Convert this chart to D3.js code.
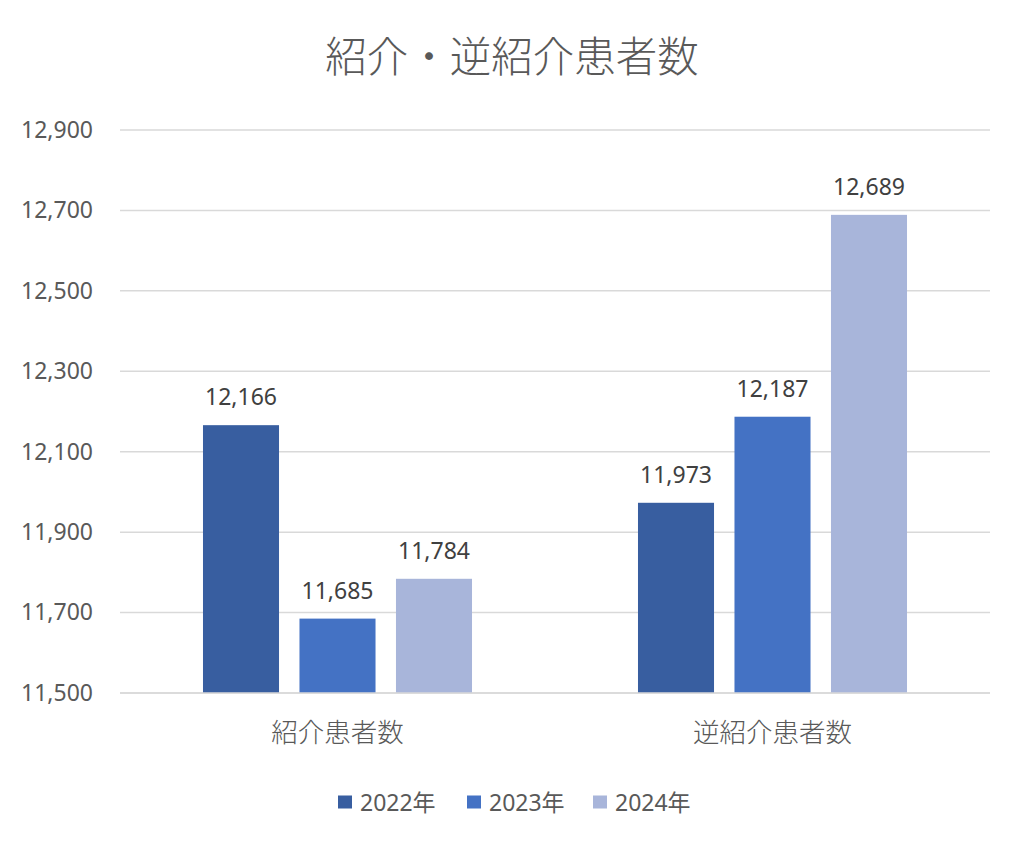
<!DOCTYPE html>
<html><head><meta charset="utf-8">
<script src="https://cdn.jsdelivr.net/npm/d3@7"></script>
<style>body{margin:0;background:#fff}</style>
</head><body>
<script>
const categories = ["紹介患者数", "逆紹介患者数"];
const seriesNames = ["2022年", "2023年", "2024年"];
const values2022 = [12166, 11973];
const values2023 = [11685, 12187];
const values2024 = [11784, 12689];
const yTicks = [11500, 11700, 11900, 12100, 12300, 12500, 12700, 12900];
const colors = ["#385EA0", "#4472C4", "#A8B5DA"];
const chartTitle = "紹介・逆紹介患者数";

(function () {
const seriesValues = [values2022, values2023, values2024];
const W = 1024, H = 845;
const svg = d3.select("body").append("svg").attr("width", W).attr("height", H);
const pLeft = 120, pRight = 990, pTop = 130, pBottom = 693;
const numFont = "'Noto Sans', 'Noto Sans CJK JP', sans-serif";
const cjkFont = "'Noto Sans CJK JP', sans-serif";

const y = d3.scaleLinear().domain([11500, 12900]).range([pBottom, pTop]);
const x0 = d3.scaleBand().domain(categories).range([pLeft, pRight]).padding(0);
const x1 = d3.scaleBand().domain(seriesNames).range([0, x0.bandwidth()]).paddingInner(0.212).paddingOuter(0.86);

svg.append("g").selectAll("line").data(yTicks).join("line")
  .attr("x1", pLeft).attr("x2", pRight)
  .attr("y1", d => y(d)).attr("y2", d => y(d))
  .attr("stroke", "#d9d9d9").attr("stroke-width", 1.5);

const yAxis = d3.axisLeft(y).tickValues(yTicks).tickFormat(d3.format(",")).tickSize(0).tickPadding(27);
const ya = svg.append("g").attr("transform", `translate(${pLeft},0)`).call(yAxis);
ya.select(".domain").remove();
ya.selectAll("text").attr("font-family", numFont).attr("font-size", 23).attr("fill", "#595959");

const groups = svg.append("g").selectAll("g").data(categories).join("g")
  .attr("transform", d => `translate(${x0(d)},0)`);
groups.each(function (cat, ci) {
  const g = d3.select(this);
  seriesNames.forEach((s, si) => {
    const v = seriesValues[si][ci];
    g.append("rect").attr("x", x1(s)).attr("width", x1.bandwidth())
      .attr("y", y(v)).attr("height", y(11500) - y(v)).attr("fill", colors[si]);
    g.append("text").attr("x", x1(s) + x1.bandwidth() / 2).attr("y", y(v) - 20)
      .attr("text-anchor", "middle").attr("font-family", numFont).attr("font-size", 23)
      .attr("fill", "#404040").text(d3.format(",")(v));
  });
});

svg.append("line").attr("x1", pLeft).attr("x2", pRight).attr("y1", pBottom).attr("y2", pBottom)
  .attr("stroke", "#d9d9d9").attr("stroke-width", 1.5);

const xAxis = d3.axisBottom(x0).tickSize(0).tickPadding(30);
const xa = svg.append("g").attr("transform", `translate(0,${pBottom})`).call(xAxis);
xa.select(".domain").remove();
xa.selectAll("text").attr("font-family", cjkFont).attr("font-size", 26.5).attr("font-weight", 300).attr("fill", "#595959");

svg.append("text").attr("x", 512).attr("y", 72).attr("text-anchor", "middle")
  .attr("font-family", cjkFont).attr("font-size", 41.5).attr("font-weight", 300).attr("fill", "#595959").text(chartTitle);

const legX = [338, 467, 593];
const leg = svg.append("g").selectAll("g").data(seriesNames).join("g")
  .attr("transform", (d, i) => `translate(${legX[i]},802)`);
leg.append("rect").attr("x", 0).attr("y", -6.5).attr("width", 14).attr("height", 13).attr("fill", (d, i) => colors[i]);
leg.append("text").attr("x", 22).attr("y", 8.5).attr("font-family", numFont).attr("font-size", 23)
  .attr("fill", "#595959").text(d => d);
})();
</script>
</body></html>
